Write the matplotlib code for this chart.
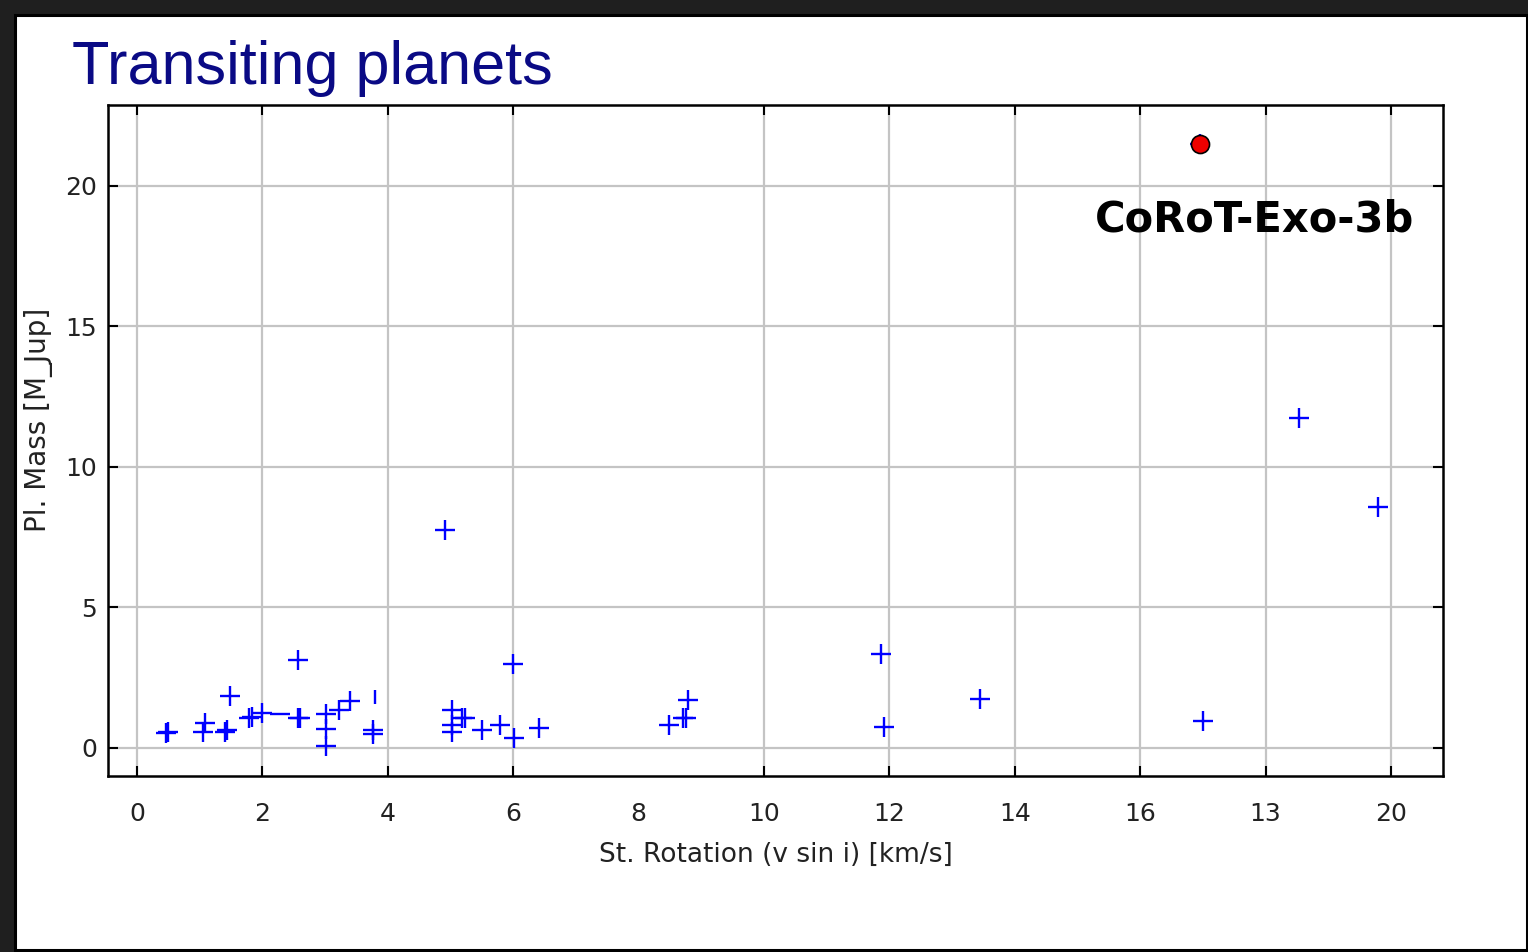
import matplotlib
matplotlib.use("Agg")
import matplotlib.pyplot as plt
from matplotlib.patches import Rectangle

# ── Data ─────────────────────────────────────────────────────
# stellar v sin i [km/s] and planet mass [M_Jup]
vsini = [0.47, 0.50, 1.08, 1.06, 1.40, 1.43, 1.49, 1.79, 1.83, 2.00,
         2.57, 2.57, 2.60, 3.01, 3.02, 3.02, 3.23, 3.40, 3.76, 3.76,
         4.92, 5.02, 5.02, 5.02, 5.19, 5.23, 5.50, 5.79, 6.00, 6.02,
         6.41, 8.49, 8.71, 8.75, 8.79, 11.87, 11.91, 13.44, 17.00, 18.54,
         19.80, 16.96]
mass = [0.52, 0.55, 0.88, 0.58, 0.58, 0.62, 1.85, 1.08, 1.10, 1.23,
        3.13, 1.05, 1.08, 1.20, 0.67, 0.07, 1.35, 1.67, 0.64, 0.48,
        7.76, 1.36, 0.81, 0.57, 1.08, 1.08, 0.63, 0.83, 3.00, 0.36,
        0.72, 0.81, 1.07, 1.08, 1.72, 3.35, 0.76, 1.75, 0.96, 11.73,
        8.59, 21.50]

# two partly drawn markers in the original
dash_x, dash_y = [2.28], [1.20]
bar_x, bar_y = [3.80], [1.80]

# highlighted planet
corot_x, corot_y = [16.96], [21.48]
corot_name = "CoRoT-Exo-3b"

xtick_vals = [0, 2, 4, 6, 8, 10, 12, 14, 16, 18, 20]
xtick_labels = ["0", "2", "4", "6", "8", "10", "12", "14", "16", "13", "20"]
ytick_vals = [0, 5, 10, 15, 20]

W, H = 1528, 952

plt.rcParams['font.family'] = ['DejaVu Sans']

fig = plt.figure(figsize=(W / 100, H / 100), dpi=100, facecolor="#1f1f1f")

# white panel with a black border (behind the axes)
fig.add_artist(Rectangle((15 / W, 1 - 950 / H), (1527 - 15) / W, (950 - 15) / H,
                         transform=fig.transFigure, facecolor="white",
                         edgecolor="black", linewidth=2.2, zorder=-5))

ax = fig.add_axes([108 / W, 1 - 776 / H, (1443 - 108) / W, (776 - 105) / H])
ax.set_zorder(2)
ax.set_facecolor("white")

ax.plot(vsini, mass, linestyle="none", marker="+", markersize=15,
        markeredgewidth=1.7, color="#0000ff", zorder=3)
ax.plot(dash_x, dash_y, linestyle="none", marker="_", markersize=15,
        markeredgewidth=1.7, color="#0000ff", zorder=3)
ax.plot(bar_x, bar_y, linestyle="none", marker="|", markersize=10,
        markeredgewidth=1.7, color="#0000ff", zorder=3)
ax.plot(corot_x, corot_y, linestyle="none", marker="o", markersize=13,
        markerfacecolor="#ee0000", markeredgecolor="black",
        markeredgewidth=1.2, zorder=4)

ax.text(17.83, 18.8, corot_name, ha="center", va="center",
        fontsize=30, fontweight="bold", color="black")

ax.set_xlim(-0.46, 20.83)
ax.set_ylim(-1.0, 22.88)

ax.set_xticks(xtick_vals)
ax.set_xticklabels(xtick_labels)
ax.set_yticks(ytick_vals)

ax.grid(True, color="#c4c4c4", linewidth=1.6, zorder=1)
ax.set_axisbelow(True)

ax.tick_params(direction="in", length=7, width=1.5, color="black",
               top=True, right=True, labelsize=18, labelcolor="#222222")
ax.tick_params(axis="x", pad=19)
ax.tick_params(axis="y", pad=8)

# the original has no tick mark or grid line at 8
t8 = ax.xaxis.get_major_ticks()[4]
t8.tick1line.set_visible(False)
t8.tick2line.set_visible(False)
t8.gridline.set_visible(False)

for s in ax.spines.values():
    s.set_linewidth(1.8)
    s.set_color("black")

ax.set_xlabel("St. Rotation (v sin i) [km/s]", fontsize=19, color="#222222", labelpad=11)
ax.set_ylabel("Pl. Mass [M_Jup]", fontsize=20, color="#222222")
ax.yaxis.set_label_coords(-0.041, 0.53)

fig.text(72 / W, 1 - 84 / H, "Transiting planets", fontsize=44,
         family="Liberation Sans", color="#0a0a85", ha="left", va="baseline")

fig.savefig("out.png", dpi=100, facecolor=fig.get_facecolor())
